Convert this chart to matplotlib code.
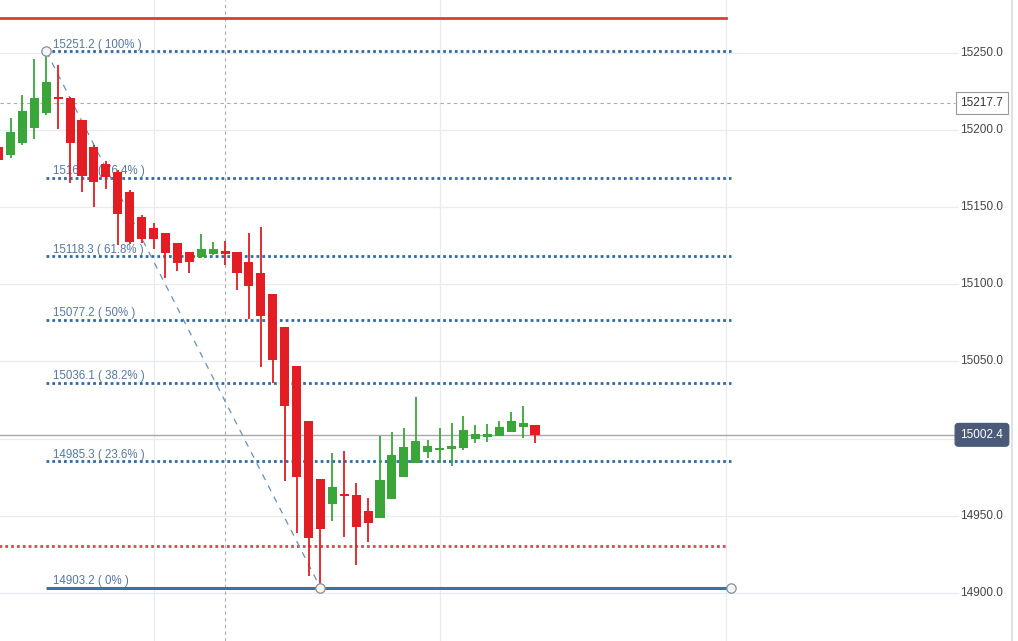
import numpy as np
import matplotlib.pyplot as plt
from matplotlib.transforms import blended_transform_factory

plt.rcParams["font.family"] = ["Liberation Sans", "DejaVu Sans"]

# Candles (open, high, low, close), one per bar, left to right
opens = [15189.2, 15184.0, 15191.8, 15201.5, 15211.3, 15221.6, 15221.0, 15206.7, 15189.2, 15178.2,
         15173.0, 15160.0, 15143.8, 15136.6, 15133.4, 15126.9, 15121.1, 15117.8, 15119.8, 15121.7,
         15121.1, 15114.6, 15107.4, 15093.8, 15072.4, 15047.1, 15011.4, 14973.7, 14957.5, 14964.0,
         14963.4, 14953.0, 14948.4, 14960.8, 14975.0, 14984.1, 14991.3, 14992.6, 14993.2, 14993.9,
         14999.7, 15001.0, 15001.7, 15004.2, 15007.5, 15008.8]
highs = [15192.4, 15208.0, 15222.9, 15246.3, 15251.2, 15242.4, 15221.6, 15206.7, 15190.5, 15180.1,
         15174.3, 15161.3, 15145.1, 15139.9, 15133.4, 15126.9, 15121.1, 15132.7, 15127.5, 15128.2,
         15121.1, 15133.4, 15137.3, 15093.8, 15072.4, 15047.1, 15011.4, 14973.7, 14990.6, 14991.9,
         14971.2, 14961.4, 15001.7, 15004.2, 15006.8, 15027.0, 14999.1, 15006.8, 15010.1, 15014.6,
         15008.8, 15009.4, 15011.4, 15017.2, 15021.1, 15008.8]
lows = [15177.5, 15182.1, 15190.5, 15194.4, 15210.0, 15200.9, 15165.8, 15160.0, 15150.3, 15161.9,
        15125.6, 15126.2, 15126.9, 15123.0, 15104.2, 15108.7, 15107.4, 15117.2, 15119.1, 15112.6,
        15096.4, 15077.6, 15046.4, 15036.0, 14972.5, 14938.7, 14910.8, 14903.2, 14946.5, 14936.1,
        14917.9, 14932.9, 14948.4, 14960.8, 14975.0, 14984.1, 14987.4, 14984.1, 14982.2, 14992.6,
        14997.1, 14997.8, 15001.7, 15004.2, 15000.4, 14997.1]
closes = [15180.8, 15198.9, 15212.6, 15221.0, 15231.4, 15220.3, 15191.8, 15170.4, 15166.5, 15169.7,
          15145.7, 15127.5, 15129.5, 15129.5, 15120.4, 15113.9, 15114.6, 15123.0, 15123.0, 15119.8,
          15107.4, 15099.0, 15079.5, 15051.0, 15021.1, 14975.0, 14935.5, 14941.3, 14968.6, 14962.7,
          14942.6, 14945.2, 14973.1, 14989.3, 14994.5, 14998.4, 14995.2, 14993.9, 14995.2, 15005.5,
          15003.0, 15003.0, 15007.5, 15011.4, 15010.1, 15002.4]

# Fibonacci retracement levels
fib_prices = [15251.2, 15169.1, 15118.3, 15077.2, 15036.1, 14985.3, 14903.2]
fib_pcts = ["100%", "76.4%", "61.8%", "50%", "38.2%", "23.6%", "0%"]
fib_start, fib_end = 4, 61.44      # bar index of swing high and right end of tool
swing_low_bar = 27

y_ticks = [14900, 14950, 15000, 15050, 15100, 15150, 15200, 15250]
time_grid = [13, 37, 61]
crosshair_bar = 19
crosshair_price = 15217.7
last_price = 15002.4
red_top = 15272.9
red_dotted = 14930.3

green = "#3aa63a"
red = "#e21d24"
fib_col = "#2f6aa5"
txt_col = "#5578a0"

fig = plt.figure(figsize=(10.18, 6.41), dpi=100)
ax = fig.add_axes([0, 0, 1, 1])
ax.set_xlim(0.119, 85.52)
ax.set_ylim(14868.6, 15284.6)
ax.axis("off")

xt = blended_transform_factory(ax.transAxes, ax.transData)

# grid
for v in y_ticks:
    ax.axhline(v, xmin=0, xmax=0.987, color="#e8ebef", lw=0.9, zorder=0)
    # the label near the last price is covered by the price box
    if abs(v - last_price) < 10:
        continue
    ax.text(0.9853, v, f"{v:.1f}", transform=xt, ha="right", va="center",
            fontsize=8.5, color="#444444", zorder=6,
            bbox=dict(facecolor="white", edgecolor="none", pad=0.6))
for g in time_grid:
    ax.axvline(g, color="#e8ebef", lw=0.9, zorder=0)
ax.axvline(crosshair_bar, color="#aaaaaa", lw=0.8, ls=(0, (3, 3)), zorder=1)
ax.plot([0.994, 0.994], [0, 1], transform=ax.transAxes, color="#d8dde3", lw=1.2)

# crosshair and last price lines
ax.axhline(crosshair_price, xmin=0, xmax=0.938, color="#aaaaaa", lw=0.8, ls=(0, (3, 3)), zorder=1)
ax.axhline(last_price, xmin=0, xmax=0.938, color="#a8a8a8", lw=1.0, zorder=1)
ax.text(0.9646, crosshair_price, f"{crosshair_price:.1f}", transform=xt, ha="center", va="center",
        fontsize=8.5, color="#333333", zorder=7,
        bbox=dict(boxstyle="square,pad=0.4", facecolor="white", edgecolor="#999999", lw=0.8))
ax.text(0.9646, last_price, f"{last_price:.1f}", transform=xt, ha="center", va="center",
        fontsize=8.5, color="white", zorder=7,
        bbox=dict(boxstyle="round,pad=0.45,rounding_size=0.25", facecolor="#4a5a78", edgecolor="#4a5a78"))

# red levels
ax.plot([0, 61], [red_top, red_top], color="#e0393e", lw=2.0, zorder=2)
ax.plot([0, 61], [red_dotted, red_dotted], color="#d9474c", lw=2.0, ls=(0, (1, 1.1)), zorder=2)

# fibonacci tool
for p, pct in zip(fib_prices, fib_pcts):
    if pct == "0%":
        ax.plot([fib_start, fib_end], [p, p], color="#3a72a8", lw=2.2, zorder=2, solid_capstyle="butt")
    else:
        ax.plot([fib_start, fib_end], [p, p], color=fib_col, lw=2.0, ls=(0, (1, 1.1)), zorder=2)
    ax.annotate(f"{p:.1f} ( {pct} )", xy=(fib_start, p), xytext=(4.5, 2.5), textcoords="offset points",
                ha="left", va="baseline", fontsize=8.3, color=txt_col, zorder=2)
ax.plot([fib_start, swing_low_bar], [fib_prices[0], fib_prices[-1]], color="#6b8fb5", lw=0.9,
        ls=(0, (5, 5)), zorder=2)
ax.scatter([fib_start, swing_low_bar, fib_end], [fib_prices[0], fib_prices[-1], fib_prices[-1]],
           s=45, facecolor="#f4f6f9", edgecolor="#8a8f96", lw=0.9, zorder=5)

# candles
x = np.arange(len(opens))
o = np.array(opens)
c = np.array(closes)
cols = [green if cc > oo else red for oo, cc in zip(o, c)]
ax.vlines(x, lows, highs, colors=cols, lw=1.3, zorder=3)
bottom = np.minimum(o, c)
height = np.maximum(np.abs(c - o), 1.2)
ax.bar(x, height, bottom=bottom, width=0.76, color=cols, edgecolor="none", zorder=4)

plt.savefig("out.png", dpi=100)
